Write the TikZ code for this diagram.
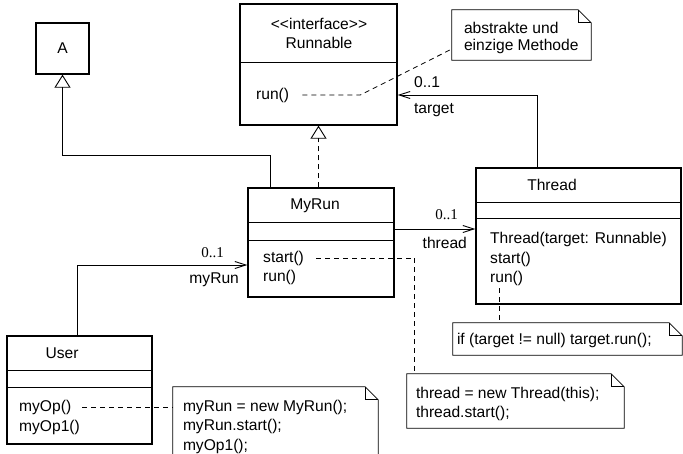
\documentclass[tikz,border=0pt]{standalone}
\usepackage{fontspec}
\setmainfont{Liberation Sans}
\newfontfamily\multfont{Liberation Serif}
\usetikzlibrary{arrows.meta}

\tikzset{
  umlclass/.style={draw, line width=1.3pt, inner sep=0pt},
  umlnote/.style={inner sep=0pt},
  lbl/.style={inner sep=0pt, font=\fontsize{15.6}{19.5}\selectfont, align=left},
  op/.style={lbl, anchor=west},
  mult/.style={inner sep=0pt, font=\multfont\fontsize{15}{18}\selectfont},
  gen/.style={line width=0.9pt, -{Triangle[open, length=13pt, width=16pt, line width=0.9pt]}},
  real/.style={gen, dash pattern=on 5pt off 4pt},
  assoc/.style={line width=0.9pt, -{Straight Barb[length=11pt, width=7pt]}},
  noteline/.style={line width=0.8pt, dash pattern=on 5pt off 4pt},
}

\begin{document}
\begin{tikzpicture}[x=1pt, y=-1pt]
\useasboundingbox (0,0) rectangle (683,453);

% classes
\node[umlclass, minimum width=53pt, minimum height=51pt] (a) at (62.5,48.5) {};
\node[lbl] (a-name) at (a.center) {A};

\node[umlclass, minimum width=157pt, minimum height=121pt] (runnable) at (318.5,64.5) {};
\node[lbl, align=center] (runnable-name) at (319,33.5) {<{}<interface>{}>\\Runnable};
\node[op] (runnable-run) at (256,95) {run()};

\node[umlclass, minimum width=146pt, minimum height=109pt] (myrun) at (321,242.5) {};
\node[lbl] (myrun-name) at (315,206) {MyRun};
\node[op] (myrun-start) at (263,258) {start()};
\node[op] (myrun-run) at (263,277) {run()};

\node[umlclass, minimum width=205pt, minimum height=136pt] (thread) at (578.5,236) {};
\node[lbl] (thread-name) at (552,185) {Thread};
\node[op] (thread-ctor) at (490,239) {Thread(target: Runnable)};
\node[op] (thread-start) at (490,259) {start()};
\node[op] (thread-run) at (490,278) {run()};

\node[umlclass, minimum width=145pt, minimum height=108pt] (user) at (79.5,390) {};
\node[lbl] (user-name) at (62,353) {User};
\node[op] (user-op) at (19,407) {myOp()};
\node[op] (user-op1) at (19,427) {myOp1()};

% compartments
\foreach \c/\d in {runnable/59, myrun/35, myrun/53, thread/35, thread/51, user/35, user/52}
  \draw[line width=1.3pt] ([yshift=-\d pt]\c.north west) -- ([yshift=-\d pt]\c.north east);

% notes
\node[umlnote, minimum width=139pt, minimum height=50pt] (note1) at (521.5,35) {};
\node[lbl, anchor=north west, font=\fontsize{15.6}{17.5}\selectfont] (note1-text)
  at ([shift={(12pt,-12pt)}]note1.north west) {abstrakte und\\einzige Methode};

\node[umlnote, minimum width=229pt, minimum height=32pt] (note2) at (567.5,339) {};
\node[lbl, anchor=north west] (note2-text)
  at ([shift={(4pt,-10.4pt)}]note2.north west) {if (target != null) target.run();};

\node[umlnote, minimum width=217pt, minimum height=54pt] (note3) at (515.5,401) {};
\node[lbl, anchor=north west] (note3-text)
  at ([shift={(9pt,-12.7pt)}]note3.north west) {thread = new Thread(this);\\thread.start();};

\node[umlnote, minimum width=205pt, minimum height=80pt] (note4) at (275.5,427) {};
\node[lbl, anchor=north west] (note4-text)
  at ([shift={(10pt,-12.7pt)}]note4.north west) {myRun = new MyRun();\\myRun.start();\\myOp1();};

\foreach \n in {note1,note2,note3,note4} {
  \draw[line width=0.8pt] (\n.south west) |- ([xshift=-13pt]\n.north east)
    -- ([yshift=-13pt]\n.north east) |- (\n.south west) -- cycle;
  \draw[line width=0.8pt] ([xshift=-13pt]\n.north east) |- ([yshift=-13pt]\n.north east);
}

% relations
\draw[gen] ([xshift=-51pt]myrun.north) -- ++(0,-32) -| (a.south);
\draw[real] (myrun.north -| runnable.south) -- (runnable.south);

\draw[assoc] ([xshift=-41.5pt]thread.north) |- ([yshift=-30.5pt]runnable.east)
  node[lbl, at end, anchor=south west, xshift=16pt, yshift=6.5pt] (target-mult) {0..1}
  node[lbl, at end, anchor=north west, xshift=16pt, yshift=-8pt] (target-role) {target};

\coordinate (mt) at ([yshift=13.5pt]myrun.east);
\draw[assoc] (mt) -- (mt -| thread.west)
  node[mult, at end, anchor=south east, xshift=-17pt, yshift=9pt] (thread-mult) {0..1}
  node[lbl, at end, anchor=north east, xshift=-8pt, yshift=-8pt] (thread-role) {thread};

\draw[assoc] ([xshift=-2.5pt]user.north) |- ([yshift=-22.5pt]myrun.west)
  node[mult, at end, anchor=south east, xshift=-23pt, yshift=7pt] (myrun-mult) {0..1}
  node[lbl, at end, anchor=north east, xshift=-8pt, yshift=-7.5pt] (myrun-role) {myRun};

% note links
\draw[noteline] ([xshift=13pt]runnable-run.east) -- ++(58,0) -- ([yshift=-14pt]note1.west);
\draw[noteline] ([xshift=12pt]myrun-start.east) -| ([xshift=8pt]note3.north west);
\coordinate (trun) at ([xshift=9pt,yshift=-3pt]thread-run.south west);
\draw[noteline] (trun) -- (trun |- note2.north);
\draw[noteline] ([xshift=11pt]user-op.east) -- (user-op.east -| note4.west);

\end{tikzpicture}
\end{document}
